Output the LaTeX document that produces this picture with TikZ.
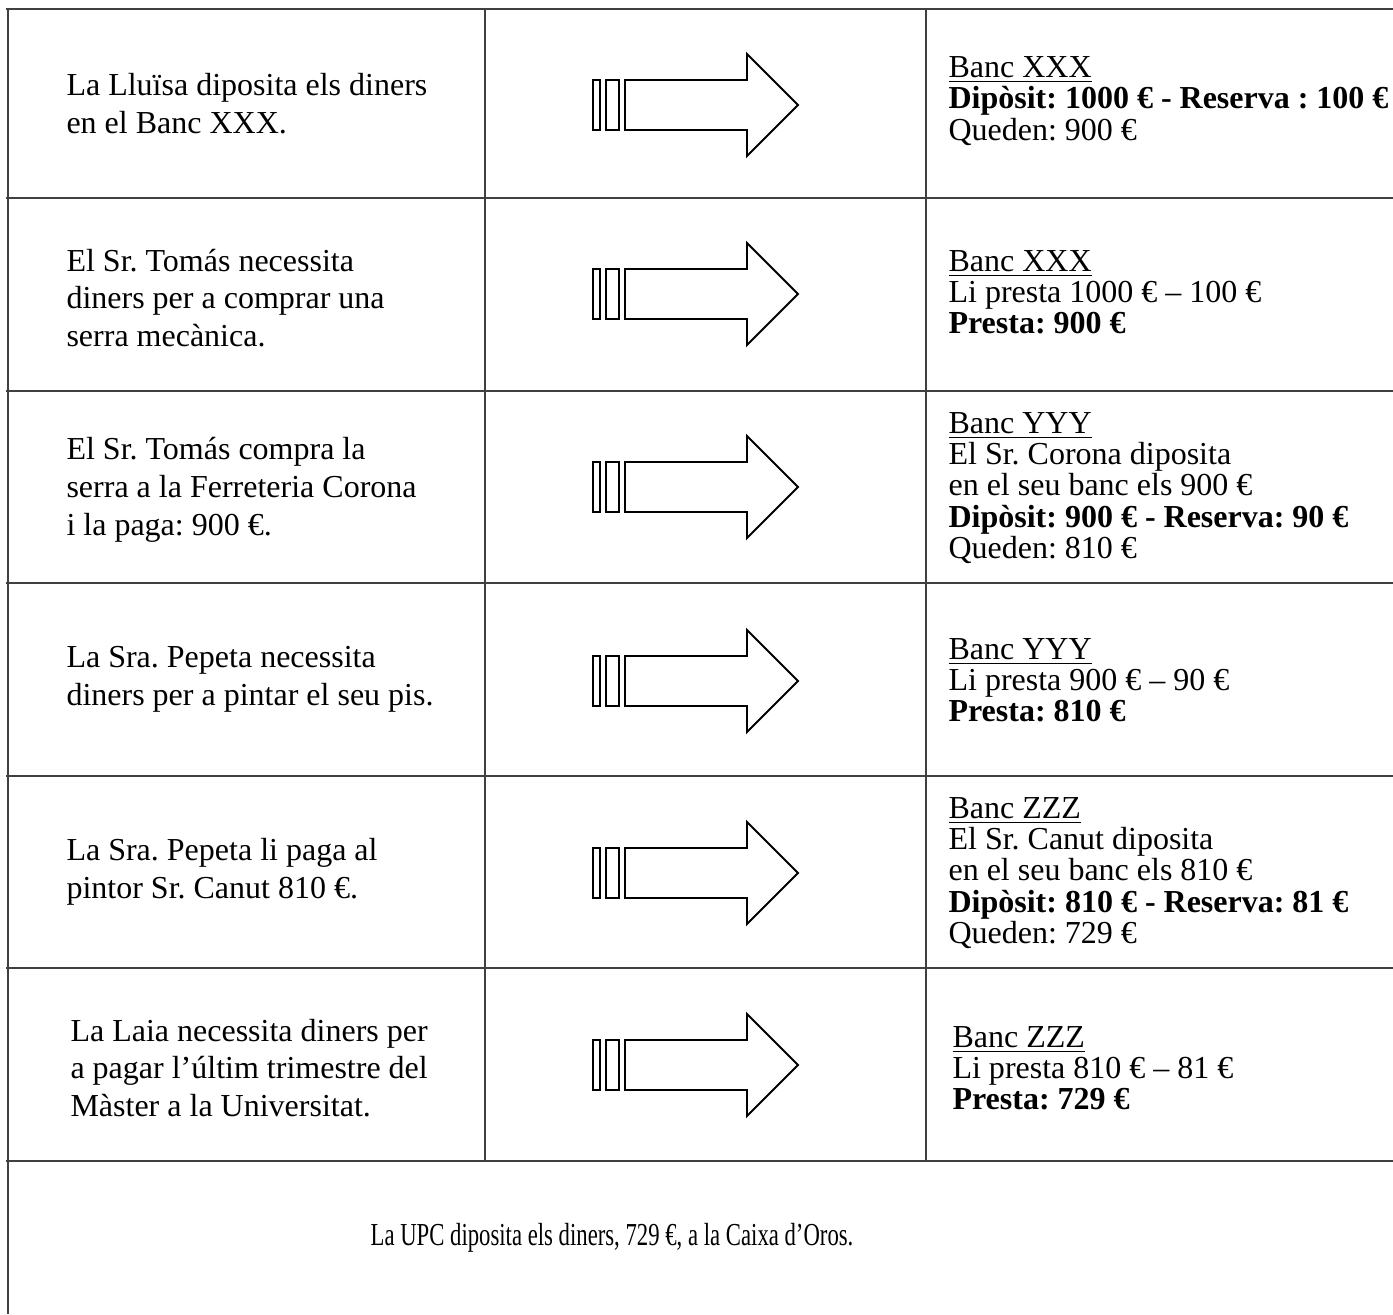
\documentclass[tikz,border=0pt]{standalone}
\usepackage{fontspec}
\setmainfont{Liberation Serif}
\usepackage{tikz}
\frenchspacing

\begin{document}
\begin{tikzpicture}[x=0.375pt, y=-0.375pt,
    gridline/.style={draw=black!75, line width=0.56pt},
    arrowline/.style={draw=black, line width=0.7pt, line join=miter},
    lefttext/.style={anchor=west, align=left, inner sep=0pt, font=\fontsize{12}{14.2}\selectfont},
    banktext/.style={anchor=west, align=left, inner sep=0pt, font=\fontsize{12}{11.7}\selectfont}]
    \useasboundingbox (0,0) rectangle (1393,1314);
        \foreach \y in {9,198,391,583,776,968,1161}
        \draw[gridline] (6,\y) -- (1393,\y);
        \draw[gridline] (8,9) -- (8,1314);
        \foreach \x in {485,926}
        \draw[gridline] (\x,9) -- (\x,1161);
        \foreach \c in {105,294,487,681,873,1065}{
        \draw[arrowline] (593,\c-25) rectangle (600,\c+25);
        \draw[arrowline] (606,\c-25) rectangle (619,\c+25);
        \draw[arrowline] (625,\c-25) -- (747,\c-25) -- (747,\c-51) -- (798,\c)
            -- (747,\c+51) -- (747,\c+25) -- (625,\c+25) -- cycle;
        }
        \node[lefttext] (l1) at (66,104) {La Lluïsa diposita els diners\\en el Banc XXX.};
        \node[lefttext] (l2) at (66,298) {El Sr. Tomás necessita\\diners per a comprar una\\serra mecànica.};
        \node[lefttext] (l3) at (66,490) {El Sr. Tomás compra la\\serra a la Ferreteria Corona\\i la paga: 900 €.};
        \node[lefttext] (l4) at (66,679) {La Sra. Pepeta necessita\\diners per a pintar el seu pis.};
        \node[lefttext] (l5) at (66,872) {La Sra. Pepeta li paga al\\pintor Sr. Canut 810 €.};
        \node[lefttext] (l6) at (70,1068) {La Laia necessita diners per\\a pagar l’últim trimestre del\\Màster a la Universitat.};
        \node[banktext] (r1) at (948,101) {\underline{Banc XXX}\\\textbf{Dipòsit: 1000 € - Reserva : 100 €}\\Queden: 900 €};
        \node[banktext] (r2) at (948,292) {\underline{Banc XXX}\\Li presta 1000 € – 100 €\\\textbf{Presta: 900 €}};
        \node[banktext] (r3) at (948,488) {\underline{Banc YYY}\\El Sr. Corona diposita\\en el seu banc els 900 €\\\textbf{Dipòsit: 900 € - Reserva: 90 €}\\Queden: 810 €};
        \node[banktext] (r4) at (948,680) {\underline{Banc YYY}\\Li presta 900 € – 90 €\\\textbf{Presta: 810 €}};
        \node[banktext] (r5) at (948,873) {\underline{Banc ZZZ}\\El Sr. Canut diposita\\en el seu banc els 810 €\\\textbf{Dipòsit: 810 € - Reserva: 81 €}\\Queden: 729 €};
        \node[banktext] (r6) at (952,1068) {\underline{Banc ZZZ}\\Li presta 810 € – 81 €\\\textbf{Presta: 729 €}};
        \node[lefttext, anchor=center] (upc) at (612,1238) {\scalebox{0.71}[1]{La UPC diposita els diners, 729 €, a la Caixa d’Oros.}};
\end{tikzpicture}
\end{document}
